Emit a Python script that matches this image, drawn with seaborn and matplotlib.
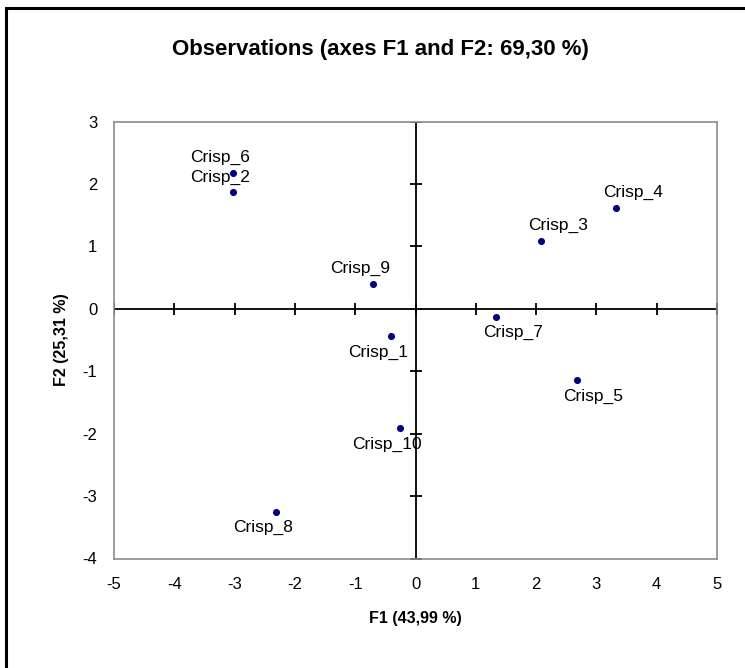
import matplotlib
matplotlib.use("Agg")
import matplotlib.pyplot as plt
import seaborn as sns
import pandas as pd
from matplotlib.patches import Rectangle

labels = ["Crisp_1", "Crisp_2", "Crisp_3", "Crisp_4", "Crisp_5",
          "Crisp_6", "Crisp_7", "Crisp_8", "Crisp_9", "Crisp_10"]
f1 = [-0.41, -3.02, 2.08, 3.32, 2.67, -3.02, 1.34, -2.32, -0.70, -0.25]
f2 = [-0.44, 1.87, 1.09, 1.62, -1.14, 2.18, -0.13, -3.25, 0.40, -1.91]
x_ticks = [-5, -4, -3, -2, -1, 0, 1, 2, 3, 4, 5]
y_ticks = [-4, -3, -2, -1, 0, 1, 2, 3]
# label placement: above or below the point
label_above = [False, True, True, True, False, True, False, False, True, False]
label_right = [False, False, True, True, True, False, True, False, False, False]

sns.set_theme(style="white")
plt.rcParams['font.family'] = ['Liberation Sans', 'DejaVu Sans']
plt.rcParams['text.color'] = 'black'
plt.rcParams['axes.labelcolor'] = 'black'

df = pd.DataFrame({"F1": f1, "F2": f2, "label": labels})

fig = plt.figure(figsize=(7.45, 6.68), dpi=100)
ax = fig.add_axes([114/745, 1-558.5/668, (717-114)/745, (558.5-121.5)/668])

# figure border (left and top visible)
fig.patches.append(Rectangle((6.5/745, -0.1), 1.2, (1-7.5/668)+0.1,
                             transform=fig.transFigure, fill=False,
                             edgecolor='black', linewidth=2.2, zorder=10))

ax.axhline(0, color='black', lw=1.3, zorder=1)
ax.axvline(0, color='black', lw=1.3, zorder=1)
ax.scatter(x_ticks, [0]*len(x_ticks), marker='|', s=70, color='black', lw=1.3, zorder=1)
ax.scatter([0]*len(y_ticks), y_ticks, marker='_', s=70, color='black', lw=1.3, zorder=1)

sns.scatterplot(data=df, x="F1", y="F2", ax=ax, color='#000080', s=26,
                edgecolor='#000080', linewidth=0, zorder=3)

for lab, x, y, up, right in zip(labels, f1, f2, label_above, label_right):
    dx = 17 if right else -13
    dy = 15 if up else -16
    ax.annotate(lab, (x, y), xytext=(dx, dy), textcoords='offset pixels',
                ha='center', va='center', fontsize=12.5, color='black')

ax.set_xlim(-5, 5)
ax.set_ylim(-4, 3)
ax.set_xticks(x_ticks)
ax.set_yticks(y_ticks)
ax.set_xticklabels([str(t) for t in x_ticks])
ax.set_yticklabels([str(t) for t in y_ticks])
ax.tick_params(axis='both', length=0, labelsize=12, colors='black', pad=13)
ax.tick_params(axis='y', pad=12)
for s in ax.spines.values():
    s.set_color('#8c8c8c')
    s.set_linewidth(1.2)

ax.set_xlabel("F1 (43,99 %)", fontsize=11.5, fontweight='bold', labelpad=14)
ax.set_ylabel("F2 (25,31 %)", fontsize=11.5, fontweight='bold', labelpad=10)
fig.text(380/745, 1-50/668, "Observations (axes F1 and F2: 69,30 %)",
         ha='center', va='center', fontsize=16, fontweight='bold',
         family=['Liberation Sans Narrow', 'Liberation Sans', 'DejaVu Sans'])

fig.savefig("out.png", dpi=100)
